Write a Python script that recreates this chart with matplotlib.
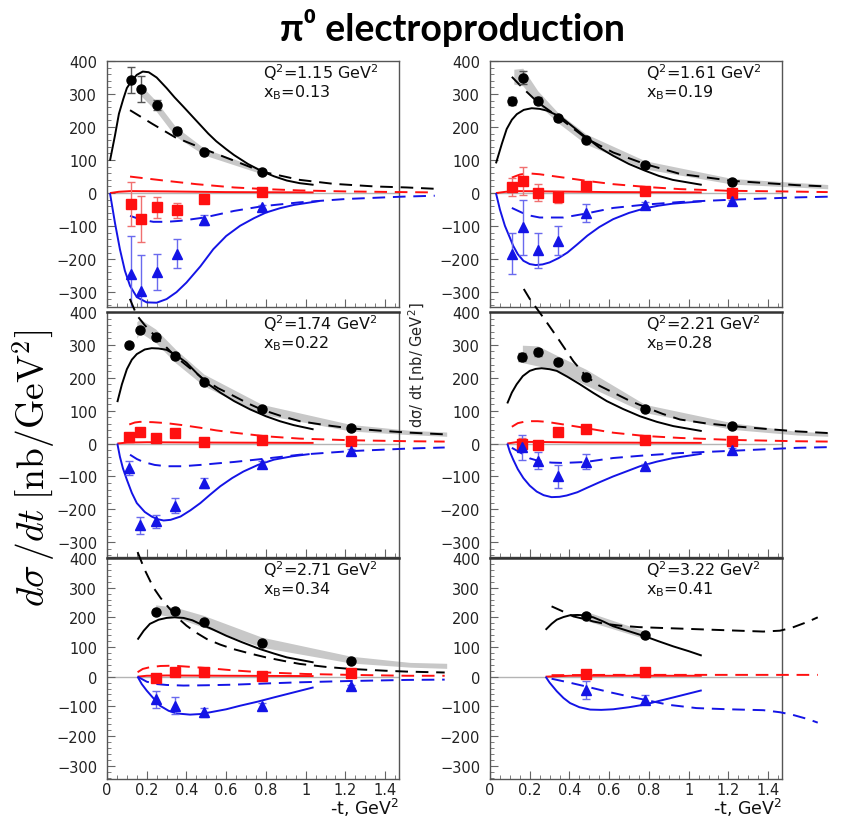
import matplotlib
matplotlib.use("Agg")
import matplotlib.pyplot as plt
import numpy as np

# ---------------- data ----------------
Q2 = [1.15, 1.61, 1.74, 2.21, 2.71, 3.22]
XB = [0.13, 0.19, 0.22, 0.28, 0.34, 0.41]

# panel 1
t_p1 = [0.12, 0.17, 0.25, 0.35, 0.49, 0.78]
sigU_p1 = [342, 315, 268, 188, 125, 65]
sigU_err_p1 = [40, 40, 15, 10, 6, 5]
sigLT_p1 = [-33, -79, -43, -52, -17, 2]
sigLT_err_p1 = [66, 70, 32, 22, 8, 6]
sigTT_p1 = [-246, -298, -238, -183, -82, -42]
sigTT_err_p1 = [115, 110, 55, 43, 15, 6]
blk_solid_p1 = [(0.015, 98), (0.04, 174), (0.06, 240), (0.082, 285), (0.1, 318), (0.124, 340), (0.15, 358), (0.18, 368), (0.21, 366), (0.25, 350), (0.30, 318), (0.34, 290), (0.384, 262), (0.43, 232), (0.47, 206), (0.51, 180), (0.55, 157), (0.6, 133), (0.64, 115), (0.71, 88), (0.78, 66), (0.84, 51), (0.905, 38), (0.97, 30), (1.04, 25)]
blk_dash_p1 = [(0.116, 251), (0.23, 209), (0.343, 169), (0.49, 133), (0.64, 98), (0.78, 65), (0.97, 40), (1.14, 28), (1.35, 20), (1.51, 17), (1.65, 13)]
band_t_p1 = [0.17, 0.245, 0.344, 0.49, 0.78]
band_hi_p1 = [327, 280, 202, 135, 73]
band_lo_p1 = [295, 250, 172, 115, 58]
red_solid_p1 = [(0.015, 0), (0.06, 4), (0.12, 6), (0.3, 5), (0.6, 3), (1.04, 2)]
red_dash_p1 = [(0.116, 50), (0.2, 44), (0.30, 37), (0.45, 27), (0.64, 17), (0.8, 12), (0.97, 8), (1.2, 5), (1.48, 3), (1.65, 2)]
blu_solid_p1 = [(0.015, 0), (0.04, -90), (0.065, -170), (0.09, -235), (0.116, -281), (0.15, -315), (0.2, -331), (0.25, -332), (0.30, -321), (0.35, -300), (0.40, -271), (0.47, -222), (0.535, -170), (0.6, -130), (0.67, -99), (0.74, -76), (0.80, -59), (0.87, -46), (0.94, -36), (1.07, -24)]
blu_dash_p1 = [(0.116, -69), (0.17, -80), (0.233, -87), (0.30, -87), (0.37, -84), (0.49, -74), (0.64, -54), (0.78, -40), (0.97, -28), (1.2, -18), (1.48, -11), (1.65, -8)]

# panel 2
t_p2 = [0.11, 0.165, 0.24, 0.34, 0.483, 0.78, 1.22]
sigU_p2 = [280, 350, 280, 226, 162, 84, 35]
sigU_err_p2 = [12, 20, 10, 8, 6, 5, 4]
sigLT_p2 = [19, 37, 1, -13, 21, 6, 0]
sigLT_err_p2 = [28, 43, 25, 17, 8, 6, 5]
sigTT_p2 = [-183, -104, -173, -144, -60, -35, -25]
sigTT_err_p2 = [63, 83, 53, 45, 28, 8, 5]
blk_solid_p2 = [(0.03, 90), (0.06, 150), (0.084, 194), (0.11, 222), (0.135, 239), (0.17, 252), (0.21, 257), (0.25, 255), (0.285, 250), (0.33, 238), (0.37, 224), (0.43, 195), (0.49, 166), (0.55, 138), (0.62, 113), (0.7, 88), (0.78, 68), (0.85, 52), (0.92, 40), (1.066, 25)]
blk_dash_p2 = [(0.11, 352), (0.165, 318), (0.24, 275), (0.34, 232), (0.483, 166), (0.62, 123), (0.78, 88), (0.957, 58), (1.22, 37), (1.545, 24), (1.7, 20)]
band_t_p2 = [0.12, 0.165, 0.24, 0.34, 0.483, 0.78, 1.22, 1.545, 1.7]
band_hi_p2 = [375, 378, 310, 245, 179, 98, 44, 32, 26]
band_lo_p2 = [330, 325, 270, 214, 148, 73, 27, 18, 13]
red_solid_p2 = [(0.03, 0), (0.08, 4), (0.15, 6), (0.3, 5), (0.6, 3), (1.066, 2)]
red_dash_p2 = [(0.11, 47), (0.15, 56), (0.19, 60), (0.25, 57), (0.37, 47), (0.5, 36), (0.62, 27), (0.8, 18), (0.957, 12), (1.2, 7), (1.47, 5), (1.7, 3)]
blu_solid_p2 = [(0.03, 0), (0.05, -50), (0.075, -99), (0.1, -135), (0.117, -160), (0.14, -185), (0.168, -205), (0.2, -215), (0.23, -218), (0.265, -216), (0.30, -210), (0.345, -197), (0.39, -180), (0.44, -155), (0.49, -129), (0.55, -103), (0.62, -79), (0.7, -60), (0.78, -46), (0.85, -38), (0.92, -32), (1.066, -25)]
blu_dash_p2 = [(0.11, -45), (0.16, -59), (0.2, -68), (0.25, -74), (0.37, -74), (0.483, -62), (0.62, -45), (0.78, -35), (0.957, -27), (1.22, -20), (1.545, -13), (1.7, -11)]

# panel 3
t_p3 = [0.112, 0.166, 0.245, 0.344, 0.488, 0.78, 1.227]
sigU_p3 = [299, 346, 323, 265, 187, 106, 46]
sigU_err_p3 = [6, 6, 6, 6, 5, 5, 4]
sigLT_p3 = [19, 36, 16, 33, 4, 12, 7]
sigLT_err_p3 = [5, 5, 5, 5, 5, 10, 6]
sigTT_p3 = [-74, -248, -237, -189, -119, -62, -23]
sigTT_err_p3 = [22, 26, 20, 22, 15, 8, 6]
blk_solid_p3 = [(0.052, 126), (0.075, 180), (0.1, 226), (0.125, 255), (0.15, 272), (0.19, 286), (0.225, 290), (0.26, 289), (0.30, 285), (0.35, 268), (0.40, 246), (0.45, 215), (0.5, 185), (0.57, 155), (0.64, 129), (0.72, 104), (0.80, 83), (0.87, 68), (0.94, 56), (1.04, 43)]
blk_dash_p3 = [(0.115, 440), (0.15, 390), (0.19, 360), (0.245, 325), (0.3, 292), (0.344, 265), (0.42, 228), (0.488, 195), (0.56, 168), (0.64, 144), (0.71, 122), (0.78, 103), (0.87, 85), (0.97, 68), (1.1, 56), (1.227, 46), (1.4, 38), (1.526, 33), (1.7, 28)]
band_t_p3 = [0.15, 0.166, 0.245, 0.344, 0.488, 0.78, 1.227, 1.526, 1.71]
band_hi_p3 = [370, 379, 348, 287, 211, 119, 58, 40, 35]
band_lo_p3 = [320, 338, 307, 246, 175, 89, 38, 27, 22]
red_solid_p3 = [(0.052, 0), (0.1, 3), (0.2, 4), (0.5, 3), (1.04, 2)]
red_dash_p3 = [(0.112, 58), (0.14, 64), (0.166, 66), (0.23, 65), (0.30, 62), (0.38, 56), (0.47, 48), (0.55, 40), (0.64, 33), (0.8, 22), (0.97, 15), (1.227, 10), (1.526, 7), (1.7, 6)]
blu_solid_p3 = [(0.052, 0), (0.065, -40), (0.08, -75), (0.1, -110), (0.125, -150), (0.15, -181), (0.19, -208), (0.225, -222), (0.255, -230), (0.285, -234), (0.32, -232), (0.37, -222), (0.42, -203), (0.47, -181), (0.52, -155), (0.57, -130), (0.63, -105), (0.687, -85), (0.76, -65), (0.84, -49), (0.93, -39), (1.02, -32)]
blu_dash_p3 = [(0.116, -34), (0.15, -47), (0.183, -56), (0.24, -65), (0.30, -69), (0.38, -69), (0.47, -65), (0.56, -60), (0.64, -56), (0.78, -47), (0.97, -34), (1.227, -23), (1.526, -15), (1.7, -12)]

# panel 4
t_p4 = [0.163, 0.24, 0.34, 0.483, 0.78, 1.22]
sigU_p4 = [264, 277, 249, 201, 106, 54]
sigU_err_p4 = [12, 10, 8, 8, 5, 4]
sigLT_p4 = [0, -3, 35, 45, 12, 9]
sigLT_err_p4 = [18, 12, 10, 6, 10, 6]
sigTT_p4 = [-11, -52, -100, -55, -68, -20]
sigTT_err_p4 = [38, 26, 34, 23, 5, 5]
blk_solid_p4 = [(0.087, 122), (0.11, 155), (0.134, 180), (0.165, 205), (0.2, 221), (0.23, 227), (0.26, 229), (0.3, 226), (0.336, 221), (0.39, 203), (0.453, 180), (0.52, 154), (0.588, 129), (0.67, 105), (0.755, 83), (0.84, 66), (0.923, 53), (1.066, 38)]
blk_dash_p4 = [(0.17, 470), (0.2, 440), (0.277, 376), (0.336, 325), (0.42, 250), (0.483, 205), (0.55, 176), (0.62, 155), (0.7, 131), (0.78, 111), (0.87, 90), (0.957, 73), (1.08, 62), (1.22, 53), (1.4, 44), (1.545, 37), (1.7, 32)]
band_t_p4 = [0.163, 0.24, 0.34, 0.483, 0.78, 1.22, 1.545, 1.7]
band_hi_p4 = [299, 297, 267, 226, 119, 63, 37, 33]
band_lo_p4 = [246, 236, 221, 177, 94, 43, 26, 22]
red_solid_p4 = [(0.087, 0), (0.13, 4), (0.2, 5), (0.5, 3), (1.066, 2)]
red_dash_p4 = [(0.11, 51), (0.14, 62), (0.185, 68), (0.24, 68), (0.285, 66), (0.37, 58), (0.453, 50), (0.54, 41), (0.62, 33), (0.78, 23), (0.957, 17), (1.22, 11), (1.545, 7), (1.7, 6)]
blu_solid_p4 = [(0.087, 0), (0.1, -25), (0.117, -49), (0.14, -78), (0.168, -105), (0.2, -128), (0.235, -146), (0.27, -157), (0.31, -163), (0.35, -162), (0.386, -158), (0.44, -148), (0.487, -135), (0.55, -118), (0.62, -100), (0.69, -84), (0.755, -69), (0.84, -55), (0.923, -44), (1.066, -31)]
blu_dash_p4 = [(0.11, -13), (0.163, -31), (0.2, -45), (0.25, -54), (0.31, -58), (0.37, -59), (0.483, -56), (0.62, -44), (0.78, -36), (0.957, -29), (1.22, -22), (1.545, -13), (1.7, -11)]

# panel 5
t_p5 = [0.245, 0.344, 0.488, 0.78, 1.227]
sigU_p5 = [218, 220, 185, 112, 54]
sigU_err_p5 = [6, 6, 5, 5, 4]
sigLT_p5 = [-5, 17, 17, 3, 12]
sigLT_err_p5 = [6, 6, 6, 6, 6]
sigTT_p5 = [-76, -98, -120, -100, -32]
sigTT_err_p5 = [28, 28, 15, 10, 5]
blk_solid_p5 = [(0.154, 125), (0.185, 155), (0.216, 178), (0.26, 192), (0.30, 198), (0.34, 200), (0.385, 198), (0.43, 190), (0.468, 178), (0.53, 160), (0.6, 138), (0.68, 116), (0.77, 93), (0.84, 78), (0.905, 65), (1.04, 48)]
blk_dash_p5 = [(0.154, 420), (0.19, 360), (0.233, 301), (0.27, 265), (0.309, 234), (0.35, 202), (0.40, 172), (0.45, 148), (0.502, 127), (0.57, 108), (0.636, 93), (0.72, 78), (0.80, 65), (0.89, 53), (0.97, 43), (1.1, 33), (1.227, 26), (1.4, 20), (1.51, 17), (1.7, 14)]
band_t_p5 = [0.245, 0.344, 0.488, 0.78, 1.227, 1.526, 1.71]
band_hi_p5 = [242, 234, 206, 133, 69, 48, 45]
band_lo_p5 = [211, 200, 166, 99, 46, 32, 28]
red_solid_p5 = [(0.154, 0), (0.2, 3), (0.3, 4), (0.6, 3), (1.04, 2)]
red_dash_p5 = [(0.154, 15), (0.18, 26), (0.216, 32), (0.27, 36), (0.334, 37), (0.42, 33), (0.5, 29), (0.64, 21), (0.77, 15), (1.0, 9), (1.227, 6), (1.51, 3), (1.7, 3)]
blu_solid_p5 = [(0.154, 0), (0.175, -25), (0.2, -47), (0.23, -70), (0.267, -98), (0.31, -115), (0.35, -124), (0.418, -128), (0.47, -126), (0.52, -120), (0.6, -110), (0.67, -98), (0.76, -84), (0.84, -70), (0.94, -53), (1.04, -36)]
blu_dash_p5 = [(0.154, 0), (0.2, -17), (0.25, -25), (0.3, -28), (0.385, -30), (0.5, -29), (0.64, -27), (0.8, -23), (0.97, -19), (1.2, -15), (1.51, -11), (1.7, -10)]

# panel 6
t_p6 = [0.483, 0.78]
sigU_p6 = [204, 139]
sigU_err_p6 = [6, 5]
sigLT_p6 = [10, 16]
sigLT_err_p6 = [10, 6]
sigTT_p6 = [-44, -78]
sigTT_err_p6 = [30, 15]
blk_solid_p6 = [(0.28, 158), (0.31, 178), (0.336, 192), (0.37, 201), (0.403, 207), (0.44, 208), (0.47, 207), (0.52, 200), (0.57, 186), (0.62, 170), (0.7, 153), (0.78, 136), (0.85, 119), (0.923, 102), (1.0, 86), (1.066, 71)]
blk_dash_p6 = [(0.31, 237), (0.36, 222), (0.42, 203), (0.483, 193), (0.52, 186), (0.58, 178), (0.655, 172), (0.75, 167), (0.873, 164), (1.0, 161), (1.125, 158), (1.25, 155), (1.376, 152), (1.46, 155), (1.52, 165), (1.6, 185), (1.65, 200)]
band_t_p6 = [0.483, 0.78]
band_hi_p6 = [220, 153]
band_lo_p6 = [189, 128]
red_solid_p6 = [(0.28, 0), (0.4, 3), (0.7, 3), (1.066, 3)]
red_dash_p6 = [(0.31, 5), (0.6, 6), (1.0, 6), (1.4, 6), (1.65, 6)]
blu_solid_p6 = [(0.28, 0), (0.3, -20), (0.336, -49), (0.37, -72), (0.403, -89), (0.45, -103), (0.504, -111), (0.56, -112), (0.62, -110), (0.7, -103), (0.78, -94), (0.85, -82), (0.923, -70), (1.066, -46)]
blu_dash_p6 = [(0.31, -7), (0.4, -20), (0.483, -33), (0.6, -52), (0.7, -67), (0.78, -78), (0.9, -95), (1.04, -106), (1.2, -110), (1.376, -113), (1.46, -120), (1.52, -128), (1.6, -143), (1.65, -155)]

y_ticks = [-300, -200, -100, 0, 100, 200, 300, 400]
x_ticks = [0, 0.2, 0.4, 0.6, 0.8, 1.0, 1.2, 1.4]
x_ticklabels = ["0", "0.2", "0.4", "0.6", "0.8", "1", "1.2", "1.4"]

panels = [
    (t_p1, sigU_p1, sigU_err_p1, sigLT_p1, sigLT_err_p1, sigTT_p1, sigTT_err_p1,
     blk_solid_p1, blk_dash_p1, band_t_p1, band_hi_p1, band_lo_p1, red_solid_p1, red_dash_p1, blu_solid_p1, blu_dash_p1),
    (t_p2, sigU_p2, sigU_err_p2, sigLT_p2, sigLT_err_p2, sigTT_p2, sigTT_err_p2,
     blk_solid_p2, blk_dash_p2, band_t_p2, band_hi_p2, band_lo_p2, red_solid_p2, red_dash_p2, blu_solid_p2, blu_dash_p2),
    (t_p3, sigU_p3, sigU_err_p3, sigLT_p3, sigLT_err_p3, sigTT_p3, sigTT_err_p3,
     blk_solid_p3, blk_dash_p3, band_t_p3, band_hi_p3, band_lo_p3, red_solid_p3, red_dash_p3, blu_solid_p3, blu_dash_p3),
    (t_p4, sigU_p4, sigU_err_p4, sigLT_p4, sigLT_err_p4, sigTT_p4, sigTT_err_p4,
     blk_solid_p4, blk_dash_p4, band_t_p4, band_hi_p4, band_lo_p4, red_solid_p4, red_dash_p4, blu_solid_p4, blu_dash_p4),
    (t_p5, sigU_p5, sigU_err_p5, sigLT_p5, sigLT_err_p5, sigTT_p5, sigTT_err_p5,
     blk_solid_p5, blk_dash_p5, band_t_p5, band_hi_p5, band_lo_p5, red_solid_p5, red_dash_p5, blu_solid_p5, blu_dash_p5),
    (t_p6, sigU_p6, sigU_err_p6, sigLT_p6, sigLT_err_p6, sigTT_p6, sigTT_err_p6,
     blk_solid_p6, blk_dash_p6, band_t_p6, band_hi_p6, band_lo_p6, red_solid_p6, red_dash_p6, blu_solid_p6, blu_dash_p6),
]

# ---------------- figure ----------------
W, H = 844, 820
fig = plt.figure(figsize=(W / 100, H / 100), dpi=100)

col_left = [107, 490]
col_w = 292
rows = [(62, 308), (313, 558), (559, 780)]

RED = "#ff1010"
BLUE = "#1414e6"
DASH = (6.5, 4)

def curve(ax, pts, color, dashed, lw=1.4, z=3):
    xs = [p[0] for p in pts]
    ys = [p[1] for p in pts]
    ln, = ax.plot(xs, ys, color=color, lw=lw, clip_on=False, zorder=z,
                  solid_capstyle="butt", dash_capstyle="butt", solid_joinstyle="round")
    if dashed:
        ln.set_dashes(DASH)

axes = []
for i, pdata in enumerate(panels):
    r, c = divmod(i, 2)
    top, bot = rows[r]
    ax = fig.add_axes([col_left[c] / W, 1 - bot / H, col_w / W, (bot - top) / H])
    ax.set_facecolor("none")
    axes.append(ax)
    (t, u, ue, lt, lte, tt, tte, bs, bd, bt, bh, bl, rs, rd, bls, bld) = pdata

    ax.set_xlim(0, 1.47)
    ax.set_ylim(-345, 400)
    ax.axhline(0, color="#b4b4b4", lw=1.0, zorder=1)

    ax.fill_between(bt, bl, bh, color="#c8c8c8", lw=0, zorder=2, clip_on=False)

    curve(ax, bs, "black", False)
    curve(ax, bd, "black", True)
    curve(ax, rs, RED, False)
    curve(ax, rd, RED, True)
    curve(ax, bls, BLUE, False)
    curve(ax, bld, BLUE, True)

    ax.errorbar(t, u, yerr=ue, fmt="o", color="black", ms=6.5, ecolor="#555555",
                elinewidth=1, capsize=3, capthick=1, zorder=6)
    ax.errorbar(t, lt, yerr=lte, fmt="s", color=RED, ms=6.5, ecolor="#f07070",
                elinewidth=1, capsize=3, capthick=1, zorder=6)
    ax.errorbar(t, tt, yerr=tte, fmt="^", color=BLUE, ms=6.5, ecolor="#6a6aee",
                elinewidth=1, capsize=3, capthick=1, zorder=6)

    ax.annotate("Q$^{2}$=%.2f GeV$^{2}$" % Q2[i], xy=(0.533, 1.0), xycoords="axes fraction",
                xytext=(0, -12.5), textcoords="offset points", ha="left", va="baseline",
                fontsize=11.5, color="#111111")
    ax.annotate("x$_{\\mathrm{B}}$=%.2f" % XB[i], xy=(0.533, 1.0), xycoords="axes fraction",
                xytext=(0, -25.5), textcoords="offset points", ha="left", va="baseline",
                fontsize=11.5, color="#111111")

    ax.set_yticks(y_ticks)
    ax.set_yticks(np.arange(-340, 401, 20), minor=True)
    ax.set_xticks(x_ticks)
    ax.set_xticks(np.arange(0, 1.47, 0.05), minor=True)
    if r == 2:
        ax.set_xticklabels(x_ticklabels)
    else:
        ax.set_xticklabels([])
    ax.tick_params(which="both", direction="in", color="#666666", labelcolor="#222222",
                   labelsize=10.5)
    ax.tick_params(axis="y", which="major", length=6, pad=7)
    ax.tick_params(axis="y", which="minor", length=3)
    ax.tick_params(axis="x", which="major", length=6, pad=2)
    ax.tick_params(axis="x", which="minor", length=3)
    for side, sp in ax.spines.items():
        sp.set_color("#555555")
        sp.set_linewidth(1.0)
    if r > 0:
        ax.spines["top"].set_linewidth(1.8)
        ax.spines["top"].set_color("#333333")

# x labels
for c in range(2):
    fig.text((col_left[c] + col_w) / W, 1 - 815 / H, "-t, GeV$^{2}$", ha="right",
             va="baseline", fontsize=12.5, color="#111111")

# big y label
fig.text(34 / W, 1 - 468 / H, r"$d\sigma\,/dt\;[\mathrm{nb/GeV}^{2}]$", rotation=90,
         ha="center", va="center", fontsize=27, math_fontfamily="cm")

# small y label
fig.text(417 / W, 1 - 365 / H, "dσ/ dt [nb/ GeV$^{2}$]", rotation=90, ha="center",
         va="center", fontsize=10.5, color="#222222")

# title
fig.text(452 / W, 1 - 28 / H, "π⁰ electroproduction", ha="center", va="center",
         fontsize=27, fontweight="bold", family=["Lato", "DejaVu Sans"])

fig.savefig("out.png", dpi=100)
